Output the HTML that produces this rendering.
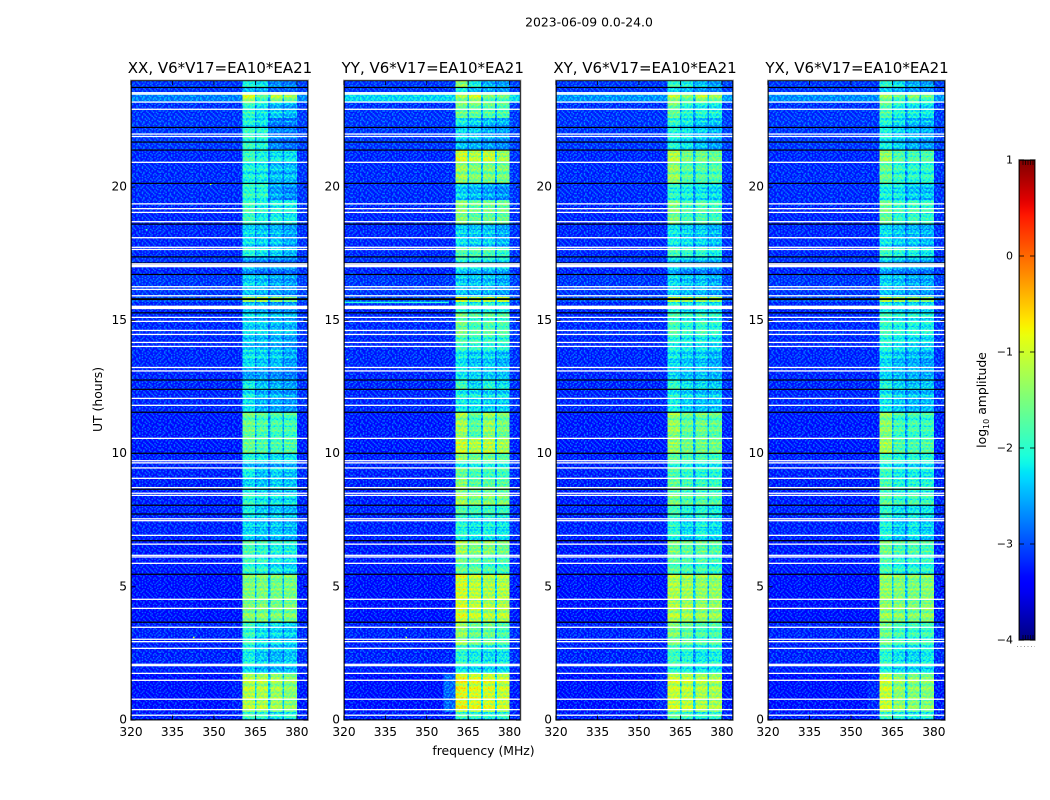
<!DOCTYPE html>
<html>
<head>
<meta charset="utf-8">
<title>2023-06-09 spectrograms</title>
<style>
html,body{margin:0;padding:0;background:#fff;width:1050px;height:800px;overflow:hidden}
svg{display:block}
text{font-family:"DejaVu Sans","Liberation Sans",sans-serif;fill:#000}
</style>
</head>
<body>
<svg id="figure" xmlns="http://www.w3.org/2000/svg" width="1050" height="800" viewBox="0 0 1050 800">
  <defs id="defs"></defs>
  <rect width="1050" height="800" fill="#fff"></rect>
  <text x="589" y="26.5" font-size="12.4" text-anchor="middle">2023-06-09 0.0-24.0</text>
  <text x="102" y="399.5" font-size="12.4" text-anchor="middle" transform="rotate(-90 102 399.5)">UT (hours)</text>
  <text x="483.5" y="755" font-size="12.4" text-anchor="middle">frequency (MHz)</text>
  <text x="986" y="400" font-size="12.4" text-anchor="middle" transform="rotate(-90 986 400)">log<tspan font-size="8" dy="3">10</tspan><tspan dy="-3"> amplitude</tspan></text>
  <g id="panels"></g>
  <g id="colorbar"></g>
</svg>
<script>
// ---------- data ----------
const panelTitles = ["XX, V6*V17=EA10*EA21", "YY, V6*V17=EA10*EA21", "XY, V6*V17=EA10*EA21", "YX, V6*V17=EA10*EA21"];
const xTicks = [320, 335, 350, 365, 380];
const yTicks = [0, 5, 10, 15, 20];
const colorTicks = [-4, -3, -2, -1, 0, 1];
const freqEdges = [320, 360.4, 364.8, 365.4, 369.6, 370.4, 374.8, 375.4, 380, 384];

const timeEdges = [0, 0.3, 1.76, 2.05, 2.8, 3.67, 5.47, 6.19, 6.75, 7.73, 8.06, 8.7, 9.08, 9.46, 9.72, 10.02, 10.58, 11.55, 12.38, 12.76, 13.25, 13.88, 14.37, 15.27, 15.68, 15.87, 16.74, 17.15, 17.41, 17.75, 18.61, 19.51, 20.15, 20.94, 21.39, 21.69, 22.25, 22.59, 22.93, 23.19, 23.56, 23.75, 24];

const baseLevels = [-3.3, -3.37, -3.3, -3.27, -3.27, -3.37, -3.32, -3.32, -3.27, -3.27, -3.3, -3.3, -3.27, -3.27, -3.3, -3.32, -3.32, -3.25, -3.25, -3.25, -3.25, -3.25, -3.23, -3.25, -3.05, -3.17, -3.25, -3.2, -3.25, -3.25, -3.25, -3.23, -3.23, -3.25, -3.17, -3.17, -3.17, -3.2, -3.2, -2.85, -3.2, -3.17];
const topStripRow = 39;
const topStripBase = [-2.8, -2.35, -2.7, -2.75];
const shoulderRow = 1;
const shoulderLevels = [-3.3, -2.95, -3.25, -3.25];

const bandsXX = [
[-1.9,-2.0,-2.2,-2.1],[-1.05,-1.1,-1.2,-1.35],[-2.3,-2.5,-2.5,-2.5],[-2.1,-2.35,-2.45,-2.4],[-1.95,-2.25,-2.3,-2.4],[-1.4,-1.4,-1.45,-1.45],
[-1.9,-2.0,-2.2,-2.3],[-1.75,-1.95,-2.05,-2.1],[-2.3,-2.4,-2.4,-2.5],[-2.1,-2.35,-2.4,-2.5],[-2.0,-2.2,-2.25,-2.3],[-2.3,-2.4,-2.3,-2.4],
[-2.1,-2.4,-2.3,-2.4],[-2.4,-2.5,-2.5,-2.5],[-2.0,-2.1,-2.2,-2.2],[-1.55,-1.7,-1.75,-1.7],[-1.55,-1.75,-1.8,-1.85],[-2.2,-2.5,-2.55,-2.65],
[-2.1,-2.4,-2.5,-2.6],[-2.6,-2.6,-2.7,-2.8],[-2.25,-2.35,-2.4,-2.6],[-2.45,-2.5,-2.55,-2.7],[-2.35,-2.4,-2.5,-2.55],[-2.4,-2.5,-2.6,-2.6],
[-1.3,-1.2,-1.4,-1.6],[-2.4,-2.5,-2.6,-2.7],[-2.6,-2.8,-2.8,-2.8],[-2.7,-2.75,-2.8,-2.85],[-2.0,-2.2,-2.3,-2.5],[-2.3,-2.4,-2.45,-2.6],
[-1.85,-2.1,-2.1,-2.15],[-1.95,-2.0,-2.6,-2.75],[-2.1,-2.15,-2.45,-2.5],[-1.85,-2.05,-2.2,-2.25],[-1.85,-2.0,-2.7,-2.85],[-2.0,-2.1,-2.85,-2.9],
[-2.1,-2.25,-2.85,-2.85],[-1.95,-2.2,-2.35,-2.5],[-1.95,-2.2,-2.5,-2.6],[-0.95,-1.75,-1.15,-1.35],[-2.4,-2.5,-2.9,-2.9],[-2.05,-2.2,-2.7,-2.8]];

const bandsYY = [
[-1.9,-2.0,-2.1,-2.0],[-0.7,-0.8,-0.85,-0.95],[-2.2,-2.3,-2.3,-2.3],[-1.95,-2.1,-2.2,-2.15],[-1.3,-1.6,-1.6,-1.8],[-0.85,-1.0,-1.1,-1.05],
[-1.6,-1.65,-1.8,-1.85],[-1.2,-1.4,-1.35,-1.5],[-2.0,-2.2,-2.1,-2.2],[-1.7,-1.85,-1.85,-1.9],[-1.25,-1.5,-1.45,-1.5],[-1.3,-1.6,-1.6,-1.6],
[-1.55,-1.75,-1.8,-1.8],[-2.0,-2.0,-1.95,-2.0],[-1.25,-1.5,-1.5,-1.6],[-0.9,-1.05,-1.0,-1.15],[-1.2,-1.7,-1.3,-1.5],[-2.1,-2.2,-2.3,-2.3],
[-1.8,-2.3,-2.0,-2.2],[-2.2,-2.3,-2.35,-2.4],[-2.2,-2.4,-2.35,-2.5],[-1.85,-1.95,-2.0,-2.0],[-1.55,-1.8,-1.75,-1.8],[-1.9,-2.1,-2.0,-2.1],
[-0.9,-1.2,-1.1,-1.0],[-2.4,-2.5,-2.5,-2.6],[-2.3,-2.4,-2.45,-2.5],[-1.95,-2.1,-2.1,-2.2],[-1.7,-1.75,-1.75,-1.9],[-2.3,-2.4,-2.4,-2.55],
[-1.35,-1.6,-1.55,-1.55],[-2.35,-2.5,-2.6,-2.7],[-1.25,-1.45,-1.45,-1.5],[-0.85,-1.05,-0.95,-1.2],[-2.4,-2.5,-2.6,-2.7],[-2.4,-2.5,-2.65,-2.7],
[-2.2,-2.35,-2.5,-2.55],[-1.55,-1.65,-1.7,-1.75],[-1.5,-1.55,-1.6,-1.7],[-1.3,-1.0,-1.55,-1.6],[-2.0,-2.4,-2.5,-2.6],[-1.3,-2.1,-2.5,-2.6]];

const bandsXY = [
[-1.75,-1.9,-2.1,-2.0],[-0.95,-1.0,-1.1,-1.15],[-2.0,-2.1,-2.2,-2.2],[-1.85,-2.0,-2.15,-2.05],[-1.45,-1.65,-1.8,-1.8],[-1.1,-1.15,-1.25,-1.25],
[-1.7,-1.8,-1.85,-1.95],[-1.45,-1.6,-1.6,-1.7],[-2.0,-2.25,-2.1,-2.25],[-1.8,-2.0,-2.0,-2.1],[-1.55,-1.75,-1.75,-1.8],[-1.55,-1.75,-1.85,-1.85],
[-1.7,-1.9,-2.0,-2.0],[-1.9,-2.0,-2.1,-2.1],[-1.6,-1.7,-1.75,-1.8],[-1.25,-1.45,-1.5,-1.5],[-1.3,-1.6,-1.55,-1.65],[-2.1,-2.3,-2.4,-2.4],
[-1.9,-2.15,-2.25,-2.35],[-2.3,-2.4,-2.4,-2.5],[-2.25,-2.35,-2.4,-2.55],[-2.1,-2.2,-2.2,-2.3],[-1.85,-2.0,-1.95,-2.05],[-2.0,-2.2,-2.1,-2.2],
[-1.05,-1.2,-1.3,-1.3],[-2.35,-2.45,-2.5,-2.6],[-2.5,-2.7,-2.7,-2.8],[-2.3,-2.4,-2.4,-2.5],[-1.8,-1.9,-1.95,-2.1],[-2.2,-2.3,-2.35,-2.5],
[-1.45,-1.8,-1.75,-1.85],[-2.0,-2.1,-2.2,-2.3],[-1.3,-1.7,-1.75,-1.75],[-1.05,-1.45,-1.5,-1.55],[-2.0,-2.15,-2.4,-2.6],[-2.15,-2.3,-2.45,-2.6],
[-2.0,-2.2,-2.4,-2.5],[-1.6,-2.0,-2.0,-2.1],[-1.55,-2.0,-2.15,-2.2],[-1.15,-1.5,-1.15,-1.35],[-2.2,-2.4,-2.6,-2.7],[-1.9,-2.05,-2.4,-2.6]];

const bandsYX = [
[-1.9,-2.1,-2.2,-2.1],[-0.95,-1.3,-1.35,-1.4],[-2.1,-2.3,-2.3,-2.3],[-1.95,-2.2,-2.25,-2.15],[-1.55,-1.85,-1.9,-1.9],[-1.25,-1.35,-1.4,-1.35],
[-1.8,-2.0,-2.0,-2.0],[-1.5,-1.75,-1.7,-1.8],[-2.05,-2.35,-2.2,-2.35],[-1.95,-2.2,-2.15,-2.2],[-1.7,-1.95,-1.85,-1.95],[-1.7,-2.0,-1.95,-2.0],
[-1.85,-2.1,-2.1,-2.15],[-2.0,-2.2,-2.2,-2.2],[-1.75,-2.0,-1.95,-2.0],[-1.15,-1.7,-1.75,-1.7],[-1.35,-1.85,-1.85,-1.9],[-2.15,-2.35,-2.45,-2.45],
[-2.0,-2.3,-2.4,-2.4],[-2.3,-2.45,-2.5,-2.55],[-2.25,-2.45,-2.5,-2.6],[-2.05,-2.2,-2.3,-2.35],[-1.95,-2.1,-2.1,-2.2],[-2.1,-2.25,-2.25,-2.3],
[-1.1,-1.3,-1.4,-1.45],[-2.4,-2.5,-2.6,-2.65],[-2.55,-2.7,-2.75,-2.8],[-2.3,-2.4,-2.5,-2.55],[-1.85,-2.0,-2.05,-2.2],[-2.25,-2.4,-2.45,-2.55],
[-1.55,-1.9,-1.85,-1.95],[-2.1,-2.2,-2.4,-2.45],[-1.6,-1.95,-2.0,-2.0],[-1.25,-1.7,-1.75,-1.75],[-2.1,-2.3,-2.5,-2.6],[-2.2,-2.4,-2.55,-2.65],
[-2.1,-2.3,-2.5,-2.55],[-1.75,-2.05,-2.1,-2.2],[-1.7,-2.05,-2.2,-2.3],[-1.35,-1.7,-1.5,-1.7],[-2.3,-2.45,-2.6,-2.7],[-1.95,-2.2,-2.5,-2.6]];

const panelBands = [bandsXX, bandsYY, bandsXY, bandsYX];

// isolated interference pixels: panel, MHz, hour, log10 amplitude
const interferenceSpots = [[0,325.4,18.4,-1.7],[0,348.5,20.1,-0.9],[0,330,20.13,-2.0],[0,342.4,3.48,-0.6],[0,342.4,3.1,-0.8],[1,320.8,14.0,-1.7],[1,321,13.53,-1.3],[1,342.3,3.45,-0.8],[1,342.3,3.1,-1.0]];
// interference streak in YY: panel, start MHz, end MHz, hour, log10 amplitude
const interferenceRows = [[1,320,358,15.67,-2.0]];

// hours with flagged (white) and missing (black) integrations
const flaggedHours = [23.54, 23.49, 23.19, 22.92, 21.99, 21.90, 20.93, 19.37, 19.19, 19.05, 18.70, 18.10, 17.74, 17.66, 17.12, 16.26, 16.16, 15.92, 15.11, 14.96, 14.62, 14.47, 14.17, 14.02, 13.23, 13.10, 12.07, 11.81, 10.57, 9.73, 9.65, 9.46, 9.07, 8.72, 8.51, 8.43, 7.55, 7.48, 6.93, 6.60, 6.18, 6.12, 5.88, 4.53, 4.19, 3.48, 3.03, 2.94, 2.69, 2.09, 2.04, 1.75, 1.49, 0.78, 0.39, 0.18];
const flaggedWide = [[15.42, 15.55], [16.99, 17.09]];
const missingHours = [23.74, 22.24, 21.69, 21.39, 20.14, 18.61, 17.38, 17.15, 16.72, 15.28, 12.76, 12.41, 11.55, 10.01, 8.66, 8.06, 7.73, 6.73, 5.47, 3.67];
const missingWide = [[15.76, 15.83]];

// decorative receiver-noise speckle and band ripple (hand-typed tiles, not data)
const speckleTile = [
"10201002101200120210012","02100120020010201002100","10012002101201002101201","20100210100200210020010",
"01020010201012001201002","12001201002002100100210","00210020120100201020120","10100102001021002100001",
"20021001210200120012102","01200210002100210200010","10012010120012001021200","02001200201021020100102",
"12100021001200100212001","00201201020012012001020","21002010100201002100210","10120002012100210020001",
"02001210200102001201020","10210010021020100012100","20010201200010212000201"];
const rippleRows = [0,1,0,2,1,0,0,1,0,0,2,1,0,1,0,0,0,2,0,1,1,0,2,0,0,1,0,0,1,2,0,1,0,0,1,0,2,0,0,1,1,0,0,2,0,1,0,0,2,0,1,0,1,0,0];

// ---------- colour map ----------
const jetR = [[0,0],[.35,0],[.66,1],[.89,1],[1,.5]];
const jetG = [[0,0],[.125,0],[.375,1],[.64,1],[.91,0],[1,0]];
const jetB = [[0,.5],[.11,1],[.34,1],[.65,0],[1,0]];
function lerpTable(t, v) {
  for (let i = 1; i < t.length; i++) {
    if (v <= t[i][0]) return t[i-1][1] + (t[i][1]-t[i-1][1]) * (v-t[i-1][0]) / (t[i][0]-t[i-1][0]);
  }
  return t[t.length-1][1];
}
function norm(level) { return Math.min(1, Math.max(0, (level + 4) / 5)); }
function colorScale(level) {
  const v = norm(level);
  return "rgb(" + [jetR, jetG, jetB].map(t => Math.round(255 * lerpTable(t, v))).join(",") + ")";
}
// Heatmap cells carry the level as a grey value; the jetMap filter turns grey into jet.
function grayScale(level) {
  const g = Math.round(255 * norm(level));
  return "rgb(" + g + "," + g + "," + g + ")";
}
// The roll-off channels between sub-bands sit lower the stronger the neighbours are.
function notchLevel(a, b, base) {
  return Math.max(base, -2.9 + 0.4 * ((a + b) / 2 + 2.5));
}

// ---------- geometry ----------
const SVGNS = "http://www.w3.org/2000/svg";
const axesBoxes = [[131, 308], [344, 520.5], [556, 733], [768, 945]];
const axisTop = 80.5, axisBottom = 720;
const timeMax = 24, freqMin = 320, freqMax = 384;
function xScale(p, mhz) { const b = axesBoxes[p]; return b[0] + (mhz - freqMin) / (freqMax - freqMin) * (b[1] - b[0]); }
function yScale(h) { return axisBottom - h / timeMax * (axisBottom - axisTop); }
function make(tag, attrs, parent) {
  const el = document.createElementNS(SVGNS, tag);
  for (const k in attrs) el.setAttribute(k, attrs[k]);
  parent.appendChild(el);
  return el;
}

// ---------- filter + decorative patterns ----------
const defs = document.getElementById("defs");
const jetFilter = make("filter", {id: "jetMap", filterUnits: "userSpaceOnUse", x: 0, y: 0, width: 1050, height: 800, "color-interpolation-filters": "sRGB"}, defs);
const jetTransfer = make("feComponentTransfer", {}, jetFilter);
[["feFuncR", jetR], ["feFuncG", jetG], ["feFuncB", jetB]].forEach(pair => {
  const samples = [];
  for (let i = 0; i <= 200; i++) samples.push(lerpTable(pair[1], i / 200).toFixed(4));
  make(pair[0], {type: "table", tableValues: samples.join(" ")}, jetTransfer);
});

const cellW = 1.39, cellH = 1.33;
const speckle = make("pattern", {id: "speckle", patternUnits: "userSpaceOnUse", x: 0, y: 0, width: cellW * speckleTile[0].length, height: cellH * speckleTile.length}, defs);
speckleTile.forEach((row, j) => {
  row.split("").forEach((c, i) => {
    if (c === "0") return;
    make("rect", {x: i * cellW, y: j * cellH, width: cellW, height: cellH, fill: c === "1" ? "#fff" : "#000", "fill-opacity": c === "1" ? 0.12 : 0.14}, speckle);
  });
});
const ripple = make("pattern", {id: "ripple", patternUnits: "userSpaceOnUse", x: 0, y: 0, width: 8, height: cellH * rippleRows.length}, defs);
rippleRows.forEach((kind, j) => {
  if (kind) make("rect", {x: 0, y: j * cellH, width: 8, height: cellH, fill: kind === 1 ? "#000" : "#fff", "fill-opacity": kind === 1 ? 0.14 : 0.08}, ripple);
});

// ---------- panels ----------
const panelsRoot = document.getElementById("panels");
panelTitles.forEach((title, p) => {
  const g = make("g", {}, panelsRoot);
  
  
  const x0 = axesBoxes[p][0], x1 = axesBoxes[p][1];

  const heat = make("g", {filter: "url(#jetMap)"}, g);
  
  

  const bands = panelBands[p];
  for (let s = 0; s < timeEdges.length - 1; s++) {
    const base = s === topStripRow ? topStripBase[p] : baseLevels[s];
    const b = bands[s];
    const columnLevels = [
      base, b[0],
      notchLevel(b[0], b[1], base), b[1],
      notchLevel(b[1], b[2], base), b[2],
      notchLevel(b[2], b[3], base), b[3],
      base + 0.05
    ];
    const yTop = yScale(timeEdges[s + 1]), yBot = yScale(timeEdges[s]);
    columnLevels.forEach((lvl, c) => {
      const xa = xScale(p, freqEdges[c]), xb = xScale(p, freqEdges[c + 1]);
      const cell = make("rect", {x: xa, y: yTop, width: xb - xa, height: yBot - yTop, fill: grayScale(lvl), "shape-rendering": "crispEdges"}, heat);
      
      
    });
    if (s === shoulderRow) {
      const xa = xScale(p, 356), xb = xScale(p, freqEdges[1]);
      const sh = make("rect", {x: xa, y: yTop, width: xb - xa, height: yBot - yTop, fill: grayScale(shoulderLevels[p]), "shape-rendering": "crispEdges"}, heat);
      
      
    }
  }

  const stripes = make("rect", {x: xScale(p, freqEdges[1]), y: axisTop, width: xScale(p, freqEdges[8]) - xScale(p, freqEdges[1]), height: axisBottom - axisTop, fill: "url(#ripple)"}, heat);
  
  
  const noise = make("rect", {x: x0, y: axisTop, width: x1 - x0, height: axisBottom - axisTop, fill: "url(#speckle)"}, heat);
  
  

  interferenceSpots.filter(d => d[0] === p).forEach(d => {
    const spot = make("rect", {x: xScale(p, d[1]), y: yScale(d[2]) - 0.7, width: 1.5, height: 1.4, fill: grayScale(d[3])}, heat);
    
    
  });
  interferenceRows.filter(d => d[0] === p).forEach(d => {
    const streak = make("rect", {x: xScale(p, d[1]), y: yScale(d[3]) - 0.7, width: xScale(p, d[2]) - xScale(p, d[1]), height: 1.4, fill: grayScale(d[4])}, heat);
    
    
  });

  missingHours.forEach(h => {
    const line = make("rect", {x: x0, y: yScale(h) - 0.6, width: x1 - x0, height: 1.2, fill: "#000"}, g);
    
    
  });
  missingWide.forEach(r => {
    const line = make("rect", {x: x0, y: yScale(r[1]), width: x1 - x0, height: yScale(r[0]) - yScale(r[1]), fill: "#000"}, g);
    
    
  });
  flaggedHours.forEach(h => {
    const line = make("rect", {x: x0, y: yScale(h) - 0.65, width: x1 - x0, height: 1.3, fill: "#fff"}, g);
    
    
  });
  flaggedWide.forEach(r => {
    const line = make("rect", {x: x0, y: yScale(r[1]), width: x1 - x0, height: yScale(r[0]) - yScale(r[1]), fill: "#fff"}, g);
    
    
  });

  const frameOuter = make("rect", {x: x0 - 0.5, y: axisTop - 0.5, width: x1 - x0 + 1, height: axisBottom - axisTop + 1, fill: "none", stroke: "#b4b4b4", "stroke-width": 1}, g);
  
  
  const frame = make("rect", {x: x0 + 0.25, y: axisTop + 0.25, width: x1 - x0 - 0.5, height: axisBottom - axisTop - 0.5, fill: "none", stroke: "#000", "stroke-width": 0.9}, g);
  
  

  xTicks.forEach(t => {
    const x = xScale(p, t);
    const tickB = make("line", {x1: x, x2: x, y1: axisBottom, y2: axisBottom - 4.5, stroke: "#000", "stroke-width": 0.8}, g);
    
    
    const tickT = make("line", {x1: x, x2: x, y1: axisTop, y2: axisTop + 4.5, stroke: "#000", "stroke-width": 0.8}, g);
    
    
    const lab = make("text", {x: x, y: 736, "font-size": 12.2, "text-anchor": "middle"}, g);
    
    
    lab.textContent = String(t);
  });
  yTicks.forEach(t => {
    const y = yScale(t);
    const tickL = make("line", {x1: x0, x2: x0 + 4.5, y1: y, y2: y, stroke: "#000", "stroke-width": 0.8}, g);
    
    
    const tickR = make("line", {x1: x1, x2: x1 - 4.5, y1: y, y2: y, stroke: "#000", "stroke-width": 0.8}, g);
    
    
    const lab = make("text", {x: x0 - 4, y: y + 3.5, "font-size": 12.2, "text-anchor": "end"}, g);
    
    
    lab.textContent = String(t);
  });

  const tt = make("text", {x: (x0 + x1) / 2 + 0.5, y: 73, "font-size": 15, "text-anchor": "middle"}, g);
  
  
  tt.textContent = title;
});

// ---------- colorbar ----------
const cbRoot = document.getElementById("colorbar");
const cbX0 = 1019, cbX1 = 1035, cbTop = 160, cbBottom = 640;
function cbScale(level) { return cbBottom - (level + 4) / 5 * (cbBottom - cbTop); }
const grad = make("linearGradient", {id: "jetGradient", x1: 0, y1: 1, x2: 0, y2: 0}, defs);
for (let i = 0; i <= 60; i++) {
  make("stop", {offset: i / 60, "stop-color": colorScale(-4 + 5 * i / 60)}, grad);
}
const cbFill = make("rect", {x: cbX0, y: cbTop, width: cbX1 - cbX0, height: cbBottom - cbTop, fill: "url(#jetGradient)"}, cbRoot);


const cbOuter = make("rect", {x: cbX0 - 0.5, y: cbTop - 0.5, width: cbX1 - cbX0 + 1, height: cbBottom - cbTop + 1, fill: "none", stroke: "#b4b4b4", "stroke-width": 1}, cbRoot);


const cbFrame = make("rect", {x: cbX0 + 0.25, y: cbTop + 0.25, width: cbX1 - cbX0 - 0.5, height: cbBottom - cbTop - 0.5, fill: "none", stroke: "#000", "stroke-width": 0.9}, cbRoot);


colorTicks.forEach(t => {
  const y = cbScale(t);
  const a = make("line", {x1: cbX0, x2: cbX0 + 5, y1: y, y2: y, stroke: "#000", "stroke-width": 0.8}, cbRoot);
  
  
  const b = make("line", {x1: cbX1, x2: cbX1 - 5, y1: y, y2: y, stroke: "#000", "stroke-width": 0.8}, cbRoot);
  
  
  const lab = make("text", {x: 1013, y: y + 3.5, "font-size": 11, "text-anchor": "end"}, cbRoot);
  
  
  lab.textContent = String(t).replace("-", "\u2212");
});
const minorXs = [1023, 1025.5, 1028, 1030.5, 1033];
minorXs.forEach(x => {
  const top = make("line", {x1: x, x2: x, y1: cbTop, y2: cbTop + 5, stroke: "#000", "stroke-width": 0.7}, cbRoot);
  
  
  const bot = make("line", {x1: x, x2: x, y1: cbBottom, y2: cbBottom - 5, stroke: "#000", "stroke-width": 0.7}, cbRoot);
  
  
});
const dots = make("line", {x1: 1017, x2: 1035, y1: 646.5, y2: 646.5, stroke: "#999", "stroke-width": 1, "stroke-dasharray": "1 2.5"}, cbRoot);


</script>
</body>
</html>
